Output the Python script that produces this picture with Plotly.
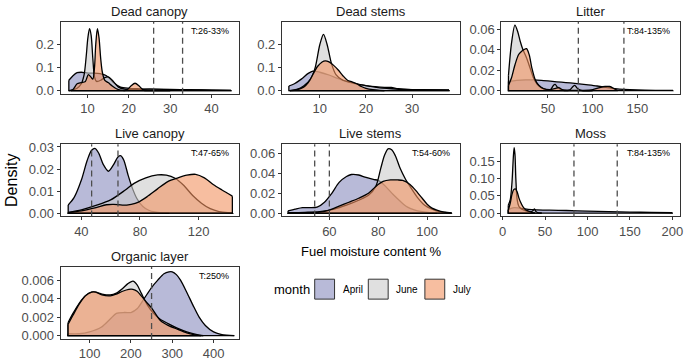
import plotly.graph_objects as go

W, H = 685, 361

FACETS = ["Dead canopy", "Dead stems", "Litter", "Live canopy", "Live stems", "Moss", "Organic layer"]
MONTHS = ["April", "June", "July"]

# ---------------- density curves ----------------
DC_APRIL_X = [5.5, 6.5, 7.5, 8.5, 9.5, 10.5, 11.5, 12.5, 13.5, 14.5, 15.5, 16.5, 18, 20, 22, 25, 30, 35, 40, 44.7]
DC_APRIL_Y = [0.045, 0.065, 0.078, 0.08, 0.078, 0.076, 0.076, 0.075, 0.072, 0.066, 0.05, 0.032, 0.015, 0.01, 0.008, 0.006, 0.004, 0.003, 0.002, 0.001]
DC_JUNE_X = [6, 7.5, 8.5, 9.2, 9.7, 10.1, 10.5, 10.9, 11.3, 11.7, 12.2, 13.2, 14, 15, 16, 17.5, 19, 21, 25, 30, 35, 40, 44.7]
DC_JUNE_Y = [0.0, 0.01, 0.03, 0.07, 0.15, 0.23, 0.27, 0.24, 0.14, 0.06, 0.04, 0.045, 0.055, 0.06, 0.045, 0.015, 0.006, 0.004, 0.006, 0.005, 0.004, 0.002, 0.001]
DC_JULY_X = [5.5, 6.5, 7.5, 8.5, 9.5, 10.2, 10.8, 11.3, 11.7, 12.0, 12.4, 12.8, 13.2, 13.6, 14.2, 15, 16, 17, 18, 19.5, 20.5, 21.5, 22.5, 23.5, 25, 30]
DC_JULY_Y = [0.0, 0.005, 0.03, 0.035, 0.04, 0.07, 0.06, 0.05, 0.1, 0.2, 0.27, 0.23, 0.14, 0.08, 0.045, 0.035, 0.02, 0.008, 0.002, 0.002, 0.02, 0.032, 0.02, 0.002, 0.0, 0.0]

DS_APRIL_X = [3.3, 4.5, 6, 7.5, 8.5, 10, 12, 14, 16, 18, 20, 22, 24, 25.5, 27, 30, 34, 38]
DS_APRIL_Y = [0.02, 0.03, 0.05, 0.075, 0.085, 0.08, 0.068, 0.052, 0.038, 0.028, 0.022, 0.017, 0.014, 0.014, 0.008, 0.004, 0.003, 0.002]
DS_JUNE_X = [3.5, 5, 6.5, 8, 9, 10, 10.8, 11.6, 12.5, 13.5, 15, 17, 19, 21, 23, 25, 28, 32, 38]
DS_JUNE_Y = [0.0, 0.005, 0.02, 0.05, 0.1, 0.2, 0.245, 0.2, 0.12, 0.07, 0.045, 0.035, 0.025, 0.018, 0.012, 0.009, 0.005, 0.004, 0.003]
DS_JULY_X = [3.5, 5, 6.5, 7.5, 8.5, 9.5, 10.5, 11.2, 12, 13, 14, 15, 16, 17, 18, 19, 20, 21.5, 23, 24]
DS_JULY_Y = [0.0, 0.003, 0.015, 0.035, 0.07, 0.105, 0.125, 0.13, 0.125, 0.11, 0.09, 0.065, 0.045, 0.038, 0.03, 0.018, 0.01, 0.004, 0.001, 0.0]

LI_APRIL_X = [5.8, 15, 25, 35, 45, 55, 65, 75, 85, 95, 105, 115, 125, 135, 150, 170, 190]
LI_APRIL_Y = [0.009, 0.01, 0.0105, 0.0105, 0.0098, 0.009, 0.0082, 0.0075, 0.0066, 0.0056, 0.0045, 0.0032, 0.002, 0.0012, 0.0006, 0.0003, 0.0002]
LI_JUNE_X = [5.8, 9, 13, 16, 19, 22, 26, 30, 34, 38, 42, 48, 53, 56, 58, 61, 66, 74, 78, 80, 83, 88, 100]
LI_JUNE_Y = [0.015, 0.045, 0.064, 0.058, 0.048, 0.04, 0.032, 0.022, 0.012, 0.006, 0.003, 0.001, 0.001, 0.005, 0.006, 0.003, 0.0005, 0.0005, 0.004, 0.005, 0.002, 0.0, 0.0]
LI_JULY_X = [5.8, 9, 13, 17, 20, 23, 26, 29, 32, 36, 40, 45, 52, 58, 62, 66, 75, 90, 100, 108, 114, 119, 124, 128]
LI_JULY_Y = [0.005, 0.012, 0.025, 0.035, 0.038, 0.04, 0.041, 0.035, 0.022, 0.01, 0.005, 0.002, 0.001, 0.002, 0.003, 0.001, 0.0003, 0.0003, 0.001, 0.003, 0.004, 0.004, 0.002, 0.0]

LC_APRIL_X = [31, 35, 40, 44, 47, 49.5, 52, 55, 58.5, 62, 65, 67, 69, 72, 75, 78, 82, 86, 90, 95, 100]
LC_APRIL_Y = [0.0037, 0.007, 0.015, 0.024, 0.0285, 0.0293, 0.027, 0.022, 0.019, 0.022, 0.0255, 0.026, 0.024, 0.017, 0.011, 0.0065, 0.003, 0.0013, 0.0005, 0.0001, 0.0]
LC_JUNE_X = [31, 40, 50, 60, 70, 76, 84, 92, 98, 104, 110, 116, 122, 128, 134, 140, 143.5]
LC_JUNE_Y = [0.0003, 0.0015, 0.0035, 0.006, 0.0105, 0.0135, 0.016, 0.0173, 0.0172, 0.0158, 0.0125, 0.008, 0.0045, 0.002, 0.0007, 0.0002, 0.0001]
LC_JULY_X = [31, 40, 50, 57, 62, 68, 74, 79, 85, 92, 99, 106, 112, 118, 124, 130, 136, 143.1]
LC_JULY_Y = [0.0002, 0.001, 0.0025, 0.0038, 0.004, 0.0036, 0.004, 0.005, 0.0075, 0.011, 0.0143, 0.016, 0.0172, 0.0176, 0.016, 0.013, 0.0105, 0.0077]

LS_APRIL_X = [43.1, 46, 49, 52, 55, 58, 61, 64, 67, 69, 72, 75, 78, 80, 83, 86, 89, 92, 95, 98, 101, 104]
LS_APRIL_Y = [0.0023, 0.004, 0.0055, 0.0055, 0.006, 0.011, 0.02, 0.031, 0.037, 0.039, 0.0385, 0.036, 0.034, 0.033, 0.027, 0.019, 0.012, 0.006, 0.003, 0.0015, 0.0005, 0.0]
LS_JUNE_X = [43.1, 50, 56, 62, 67, 72, 76, 79, 81, 82.5, 84, 85.5, 87, 89, 91, 93, 96, 99, 102, 105, 108, 110]
LS_JUNE_Y = [0.0003, 0.0008, 0.0015, 0.004, 0.008, 0.013, 0.018, 0.027, 0.045, 0.058, 0.065, 0.064, 0.058, 0.045, 0.035, 0.027, 0.016, 0.008, 0.004, 0.0015, 0.0005, 0.0]
LS_JULY_X = [43.1, 50, 56, 60, 64, 68, 72, 76, 79, 82, 85, 88, 90, 93, 96, 98, 100, 102, 104, 107, 110]
LS_JULY_Y = [0.0002, 0.0005, 0.001, 0.003, 0.007, 0.011, 0.015, 0.02, 0.027, 0.032, 0.0335, 0.0335, 0.033, 0.029, 0.021, 0.015, 0.009, 0.005, 0.003, 0.001, 0.0002]

MO_APRIL_X = [6.6, 10, 14, 18, 24, 30, 40, 55, 75, 100, 125, 150, 175, 200]
MO_APRIL_Y = [0.01, 0.014, 0.016, 0.015, 0.013, 0.011, 0.0095, 0.0085, 0.0075, 0.006, 0.0045, 0.003, 0.002, 0.001]
MO_JUNE_X = [6.6, 9, 11, 12.5, 13.5, 14.5, 15.5, 17, 19, 22, 26, 30, 34, 36, 37.5, 39, 42, 46]
MO_JUNE_Y = [0.023, 0.04, 0.09, 0.16, 0.19, 0.17, 0.1, 0.04, 0.02, 0.012, 0.008, 0.005, 0.004, 0.008, 0.012, 0.005, 0.001, 0.0]
MO_JULY_X = [6.6, 9, 11, 13, 15, 17, 19, 21, 24, 27, 30, 34, 38]
MO_JULY_Y = [0.008, 0.03, 0.055, 0.068, 0.07, 0.062, 0.045, 0.032, 0.018, 0.01, 0.006, 0.002, 0.0]

OL_APRIL_X = [48, 75, 100, 128, 150, 165, 185, 200, 215, 232, 250, 265, 280, 292, 300, 310, 320, 335, 350, 365, 380, 400, 420, 450]
OL_APRIL_Y = [0.0002, 0.0002, 0.0004, 0.0009, 0.0018, 0.0024, 0.0025, 0.0025, 0.0029, 0.004, 0.0052, 0.006, 0.0067, 0.0069, 0.0069, 0.0066, 0.006, 0.0047, 0.0033, 0.002, 0.0011, 0.0004, 0.0001, 0.0]
OL_JUNE_X = [48, 60, 75, 90, 105, 115, 130, 150, 165, 180, 192, 205, 215, 225, 240, 255, 270, 290, 312, 335, 360, 375]
OL_JUNE_Y = [0.0014, 0.0024, 0.0035, 0.0043, 0.0047, 0.0047, 0.0045, 0.0044, 0.0046, 0.0051, 0.0056, 0.0059, 0.0055, 0.0046, 0.0033, 0.0024, 0.0018, 0.0013, 0.0008, 0.0004, 0.0001, 0.0]
OL_JULY_X = [48, 60, 75, 90, 105, 115, 130, 150, 165, 180, 195, 205, 215, 225, 240, 250, 272, 290, 312, 335, 352, 370]
OL_JULY_Y = [0.0012, 0.0022, 0.0034, 0.0043, 0.0047, 0.0047, 0.0044, 0.0043, 0.0045, 0.0048, 0.005, 0.005, 0.0048, 0.0043, 0.0035, 0.003, 0.0016, 0.0011, 0.0007, 0.0003, 0.0001, 0.0]

# ---------------- thresholds, labels, ticks ----------------
DC_THRESH = [26, 33]
DS_THRESH = []
LI_THRESH = [84, 135]
LC_THRESH = [47, 65]
LS_THRESH = [54, 60]
MO_THRESH = [84, 135]
OL_THRESH = [250]
T_LABELS = ["T:26-33%", "", "T:84-135%", "T:47-65%", "T:54-60%", "T:84-135%", "T:250%"]

X_TICKS = [[10, 20, 30, 40], [10, 20, 30], [50, 100, 150], [40, 80, 120], [60, 80, 100],
           [0, 50, 100, 150, 200], [100, 200, 300, 400]]
Y_TICKS = [[0, 0.1, 0.2], [0, 0.1, 0.2], [0, 0.02, 0.04, 0.06], [0, 0.01, 0.02, 0.03],
           [0, 0.02, 0.04, 0.06], [0, 0.05, 0.10, 0.15], [0, 0.002, 0.004, 0.006]]
Y_TICKTEXT = [["0.0", "0.1", "0.2"], ["0.0", "0.1", "0.2"], ["0.00", "0.02", "0.04", "0.06"],
              ["0.00", "0.01", "0.02", "0.03"], ["0.00", "0.02", "0.04", "0.06"],
              ["0.00", "0.05", "0.10", "0.15"], ["0.000", "0.002", "0.004", "0.006"]]

X_TITLE = "Fuel moisture content %"
Y_TITLE = "Density"
LEGEND_TITLE = "month"

CURVES = [
    [(DC_APRIL_X, DC_APRIL_Y), (DC_JUNE_X, DC_JUNE_Y), (DC_JULY_X, DC_JULY_Y)],
    [(DS_APRIL_X, DS_APRIL_Y), (DS_JUNE_X, DS_JUNE_Y), (DS_JULY_X, DS_JULY_Y)],
    [(LI_APRIL_X, LI_APRIL_Y), (LI_JUNE_X, LI_JUNE_Y), (LI_JULY_X, LI_JULY_Y)],
    [(LC_APRIL_X, LC_APRIL_Y), (LC_JUNE_X, LC_JUNE_Y), (LC_JULY_X, LC_JULY_Y)],
    [(LS_APRIL_X, LS_APRIL_Y), (LS_JUNE_X, LS_JUNE_Y), (LS_JULY_X, LS_JULY_Y)],
    [(MO_APRIL_X, MO_APRIL_Y), (MO_JUNE_X, MO_JUNE_Y), (MO_JULY_X, MO_JULY_Y)],
    [(OL_APRIL_X, OL_APRIL_Y), (OL_JUNE_X, OL_JUNE_Y), (OL_JULY_X, OL_JULY_Y)],
]
THRESHOLDS = [DC_THRESH, DS_THRESH, LI_THRESH, LC_THRESH, LS_THRESH, MO_THRESH, OL_THRESH]

# ---------------- layout / style ----------------
FONT = "Liberation Sans, Arial, Helvetica, sans-serif"
ALPHA = 0.6
BASE_RGB = {"April": (137, 140, 190), "June": (203, 203, 203), "July": (242, 147, 97)}

COLS_PX = [(59, 239), (282, 461), (503, 683)]
ROWS_PX = [(17.3, 91.4), (143.3, 217.4), (269.4, 343.4)]
X_RANGES = [[3.5, 46.7], [1.8, 40.3], [-2.2, 197.8], [25.8, 147.8], [40.6, 113.3], [-1.6, 209.0], [30, 462]]
Y_RANGES = [[-0.0143, 0.300], [-0.0143, 0.300], [-0.0032, 0.0672], [-0.00148, 0.0312],
            [-0.0033, 0.0695], [-0.0095, 0.1995], [-0.000354, 0.00743]]


def px_x(v):
    return v / W


def px_y(v):
    return 1 - v / H


def rgba(rgb, a):
    return "rgba(%d,%d,%d,%.2f)" % (rgb[0], rgb[1], rgb[2], a)


def blend(rgb, a):
    return "rgb(%d,%d,%d)" % tuple(round(a * c + (1 - a) * 255) for c in rgb)


fig = go.Figure()
shapes = []
annotations = []
layout_axes = {}

for i, facet in enumerate(FACETS):
    n = i + 1
    suffix = "" if n == 1 else str(n)
    xname, yname = "x" + suffix, "y" + suffix
    row, col = divmod(i, 3)
    x0, x1 = COLS_PX[col]
    y0, y1 = ROWS_PX[row]

    for m, month in enumerate(MONTHS):
        xs, ys = CURVES[i][m]
        fig.add_trace(go.Scatter(
            x=xs, y=ys, mode="lines", xaxis=xname, yaxis=yname,
            line=dict(color="black", width=1.3, shape="spline", smoothing=0.8),
            fill="tozeroy", fillcolor=rgba(BASE_RGB[month], ALPHA),
            hoverinfo="skip", showlegend=False))
        fig.add_trace(go.Scatter(
            x=[xs[0], xs[0], xs[-1], xs[-1]], y=[ys[0], 0, 0, ys[-1]],
            mode="lines", xaxis=xname, yaxis=yname,
            line=dict(color="black", width=1.3),
            hoverinfo="skip", showlegend=False))

    axis_common = dict(showgrid=False, zeroline=False, showline=True, mirror=True,
                       linecolor="#333333", linewidth=1, ticks="outside", ticklen=3,
                       tickwidth=1, tickcolor="#333333", ticklabeloverflow="allow",
                       tickfont=dict(family=FONT, size=13, color="#4D4D4D"))
    layout_axes["xaxis" + suffix] = dict(
        domain=[px_x(x0), px_x(x1)], anchor=yname, range=X_RANGES[i],
        tickmode="array", tickvals=X_TICKS[i], **axis_common)
    layout_axes["yaxis" + suffix] = dict(
        domain=[px_y(y1), px_y(y0)], anchor=xname, range=Y_RANGES[i],
        tickmode="array", tickvals=Y_TICKS[i], ticktext=Y_TICKTEXT[i], **axis_common)

    for v in THRESHOLDS[i]:
        shapes.append(dict(type="line", xref=xname, yref=yname + " domain",
                           x0=v, x1=v, y0=0, y1=1, layer="above",
                           line=dict(color="#4D4D4D", width=1.3, dash="6px,4px")))

    annotations.append(dict(text=facet, x=px_x((x0 + x1) / 2), y=px_y(y0 - 11),
                            xref="paper", yref="paper", showarrow=False,
                            xanchor="center", yanchor="middle",
                            font=dict(family=FONT, size=13, color="#1A1A1A")))
    if T_LABELS[i]:
        annotations.append(dict(text=T_LABELS[i], x=0.955, y=0.97,
                                xref=xname + " domain", yref=yname + " domain",
                                showarrow=False, xanchor="right", yanchor="top",
                                font=dict(family=FONT, size=9, color="black")))

# axis titles
annotations.append(dict(text=Y_TITLE, x=px_x(9), y=px_y(180), xref="paper", yref="paper",
                        showarrow=False, textangle=-90, xanchor="center", yanchor="middle",
                        font=dict(family=FONT, size=16, color="black")))
annotations.append(dict(text=X_TITLE, x=px_x(372), y=px_y(254), xref="paper", yref="paper",
                        showarrow=False, xanchor="center", yanchor="middle",
                        font=dict(family=FONT, size=13, color="black")))

# legend (drawn manually)
annotations.append(dict(text=LEGEND_TITLE, x=px_x(272), y=px_y(293), xref="paper", yref="paper",
                        showarrow=False, xanchor="left", yanchor="middle",
                        font=dict(family=FONT, size=13, color="black")))
KEY_LEFT_PX = [315, 369, 426]
for m, month in enumerate(MONTHS):
    kx = KEY_LEFT_PX[m]
    shapes.append(dict(type="rect", xref="paper", yref="paper",
                       x0=px_x(kx), x1=px_x(kx + 20), y0=px_y(302.5), y1=px_y(282),
                       fillcolor=blend(BASE_RGB[month], ALPHA),
                       line=dict(color="#333333", width=1)))
    annotations.append(dict(text=month, x=px_x(kx + 26), y=px_y(293), xref="paper", yref="paper",
                            showarrow=False, xanchor="left", yanchor="middle",
                            font=dict(family=FONT, size=10, color="black")))

fig.update_layout(
    width=W, height=H, margin=dict(l=0, r=0, t=0, b=0),
    paper_bgcolor="white", plot_bgcolor="white",
    font=dict(family=FONT), showlegend=False,
    shapes=shapes, annotations=annotations, **layout_axes)

fig.write_html("out.html", config={"displayModeBar": False},
               post_script="document.body.style.margin='0px';document.body.style.overflow='hidden';")
